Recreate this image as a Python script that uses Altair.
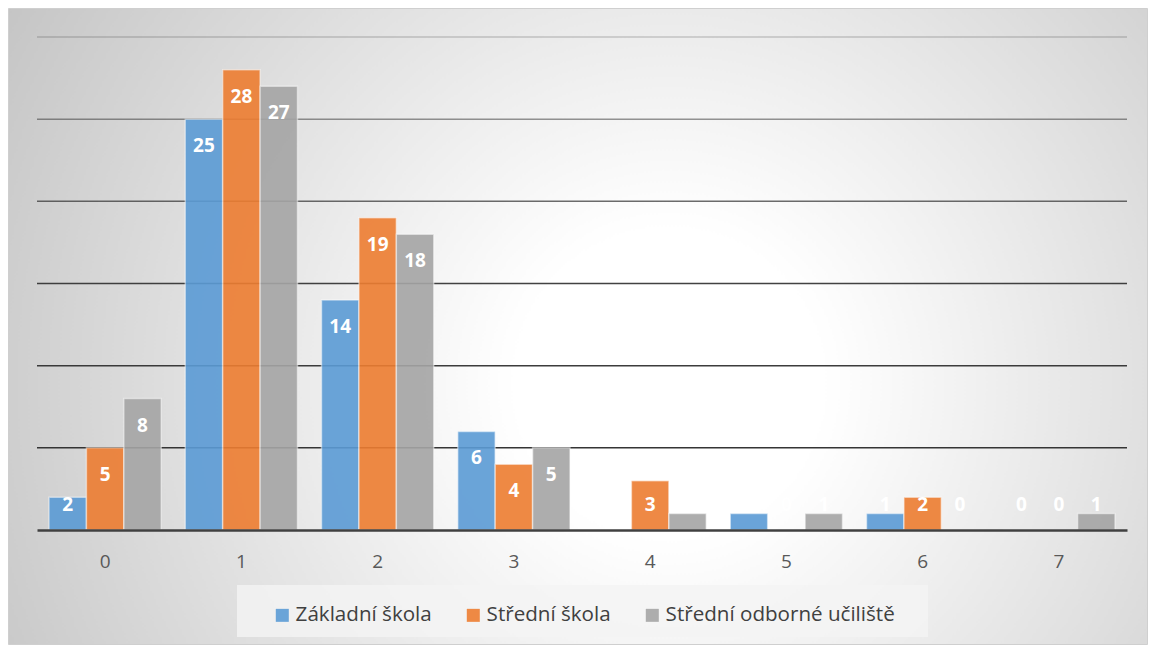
import altair as alt
import pandas as pd

categories = ["0", "1", "2", "3", "4", "5", "6", "7"]
series = ["Základní škola", "Střední škola", "Střední odborné učiliště"]
zakladni = [2, 25, 14, 6, 0, 1, 1, 0]
stredni = [5, 28, 19, 4, 3, 0, 2, 0]
uciliste = [8, 27, 18, 5, 1, 1, 0, 1]
colors = ["#5B9BD5", "#ED7D31", "#A5A5A5"]
gridlines = [5, 10, 15, 20, 25, 30]

rows = []
for name, vals in zip(series, [zakladni, stredni, uciliste]):
    for c, v in zip(categories, vals):
        rows.append({"cat": c, "series": name, "value": v})
df = pd.DataFrame(rows)

W, H = 1090, 493
PL, PT, PR, PB = 29, 29, 21, 115
FONT = "Open Sans"

yscale = alt.Scale(domain=[0, 30], nice=False, zero=True)
x = alt.X(
    "cat:N", sort=categories,
    scale=alt.Scale(paddingInner=0.176, paddingOuter=0.088),
    axis=alt.Axis(title=None, labelAngle=0, ticks=False, labelPadding=22,
                  domainColor="#404040", domainWidth=2.5, labelFontSize=19,
                  labelColor="#595959", labelFont=FONT, zindex=1, grid=False),
)
xo = alt.XOffset("series:N", sort=series)
y = alt.Y("value:Q", scale=yscale, axis=None)

bg = alt.Chart(alt.Data(values=[{}])).mark_rect(
    fill=alt.RadialGradient(
        gradient="radial",
        stops=[alt.GradientStop(offset=0, color="#ffffff"),
               alt.GradientStop(offset=0.18, color="#ffffff"),
               alt.GradientStop(offset=1, color="#bcbcbc")],
        x1=0.58, y1=0.55, r1=0, x2=0.58, y2=0.55, r2=0.75),
    stroke="#cfcfcf", strokeWidth=1,
).encode(x=alt.value(-PL + 0.5), x2=alt.value(W + PR - 0.5),
         y=alt.value(-PT + 0.5), y2=alt.value(H + PB - 0.5))

legend_box = alt.Chart(alt.Data(values=[{}])).mark_rect(
    fill="#f4f4f4", opacity=0.8
).encode(x=alt.value(237 - 37), x2=alt.value(928 - 37), y=alt.value(548), y2=alt.value(600))

grid = alt.Chart(pd.DataFrame({"g": gridlines})).mark_rule(
    color="#2e2e2e", strokeWidth=1.5
).encode(
    y=alt.Y("g:Q", scale=yscale, axis=None),
    opacity=alt.Opacity("g:Q", scale=alt.Scale(domain=[5, 15, 25, 30], range=[0.97, 0.9, 0.5, 0.22]), legend=None),
)

bars = alt.Chart(df).mark_bar(
    opacity=0.9, stroke="white", strokeOpacity=0.5, strokeWidth=1.5
).encode(
    x=x, xOffset=xo, y=y,
    color=alt.Color(
        "series:N", sort=series,
        scale=alt.Scale(domain=series, range=colors),
        legend=alt.Legend(title=None, orient="none", legendX=235, legendY=568,
                          direction="horizontal", columns=3, symbolType="square",
                          symbolSize=169, symbolStrokeWidth=0, symbolOpacity=0.9,
                          labelFont=FONT, labelFontSize=20.6, labelColor="#404040",
                          labelLimit=0, columnPadding=31, labelOffset=3, padding=0),
    ),
)

lab_in = alt.Chart(df).transform_filter("datum.value >= 4").mark_text(
    color="white", font=FONT, fontWeight="bold", fontSize=19, baseline="middle", dy=27
).encode(x=x, xOffset=xo, y=y, text="value:Q")

lab_low = alt.Chart(df).transform_filter("datum.value < 4").transform_calculate(
    base="0"
).mark_text(
    color="white", font=FONT, fontWeight="bold", fontSize=19, baseline="middle", dy=-25
).encode(x=x, xOffset=xo, y=alt.Y("base:Q", scale=yscale, axis=None), text="value:Q")

chart = alt.layer(bg, legend_box, grid, bars, lab_in, lab_low).properties(
    width=W, height=H,
    padding={"left": PL, "top": PT, "right": PR, "bottom": PB},
    autosize=alt.AutoSizeParams(type="none"),
).configure_view(stroke=None)

chart.save("out.html", embed_options={"renderer": "svg", "actions": False})
